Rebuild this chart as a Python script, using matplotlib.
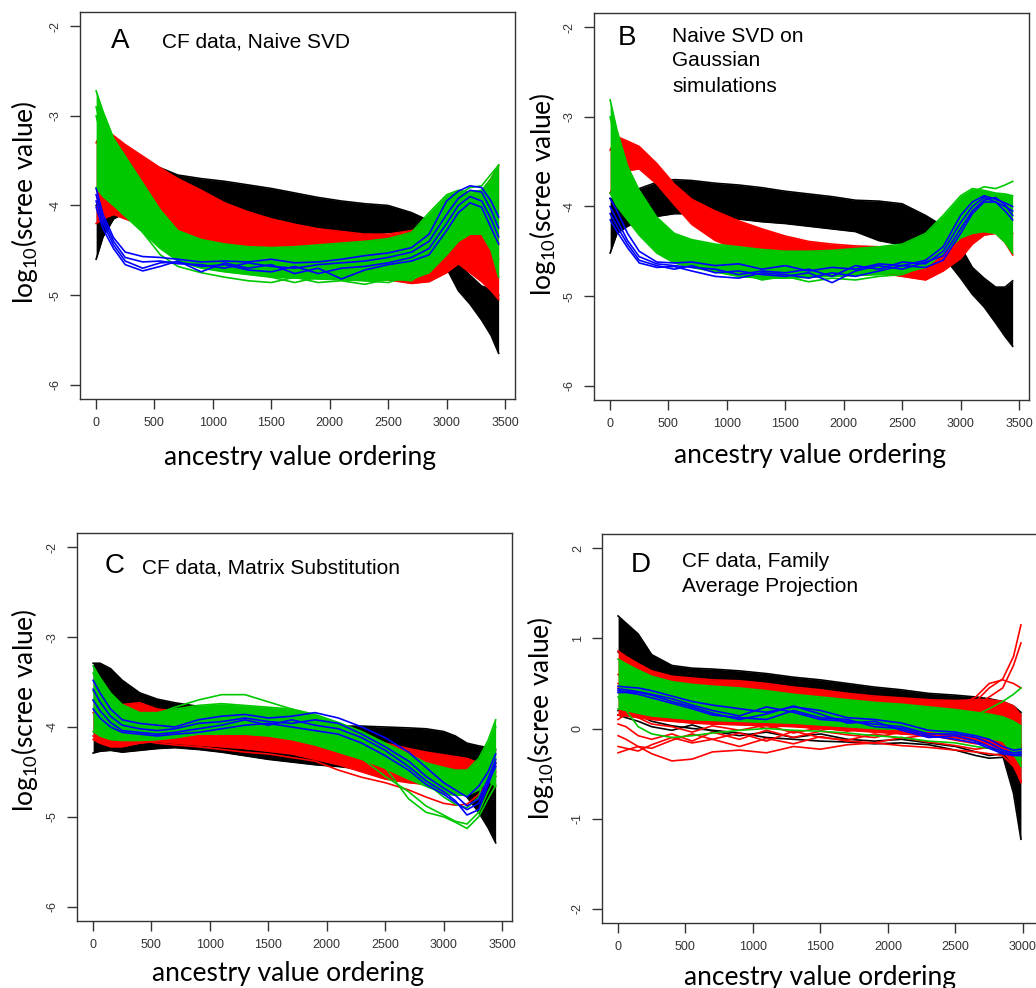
import itertools
import matplotlib.pyplot as plt

plt.rcParams['axes.unicode_minus'] = False
plt.rcParams['mathtext.fontset'] = 'custom'
plt.rcParams['mathtext.rm'] = 'Lato'

W, H = 1036, 988

BLACK = '#000000'
RED = '#FF0000'
GREEN = '#00C800'
BLUE = '#0000FF'

# ordering positions where the curves are read (panels A-C)
x_abc = [1, 60, 150, 250, 400, 550, 700, 900, 1100, 1300, 1500, 1700, 1900,
         2100, 2300, 2500, 2700, 2850, 3000, 3100, 3200, 3300, 3380, 3445]
# panel D has fewer ancestry values
x_d = [1, 60, 150, 250, 400, 550, 700, 900, 1100, 1300, 1500, 1700, 1900,
       2100, 2300, 2500, 2650, 2750, 2850, 2930, 2985]

# ---- A: CF data, naive SVD ----
a_black_hi = [-4.00, -3.92, -3.80, -3.66, -3.52, -3.58, -3.66, -3.70, -3.73, -3.77, -3.81, -3.86,
              -3.91, -3.95, -3.98, -4.00, -4.08, -4.17, -4.45, -4.65, -4.78, -4.90, -4.93, -5.00]
a_black_lo = [-4.60, -4.35, -4.15, -4.08, -4.10, -4.10, -4.12, -4.14, -4.16, -4.18, -4.20, -4.23,
              -4.25, -4.30, -4.33, -4.30, -4.28, -4.32, -4.70, -4.95, -5.10, -5.28, -5.45, -5.65]
a_red_hi = [-3.30, -3.15, -3.22, -3.32, -3.45, -3.58, -3.70, -3.83, -3.97, -4.07, -4.15, -4.21,
            -4.26, -4.29, -4.32, -4.32, -4.28, -4.22, -4.20, -4.05, -3.95, -3.85, -3.70, -3.55]
a_red_lo = [-4.20, -4.15, -4.10, -4.15, -4.22, -4.30, -4.40, -4.48, -4.53, -4.57, -4.60, -4.64,
            -4.68, -4.73, -4.78, -4.83, -4.87, -4.85, -4.75, -4.65, -4.75, -4.85, -4.95, -5.05]
a_green_hi = [-2.72, -2.95, -3.25, -3.45, -3.75, -4.05, -4.28, -4.38, -4.43, -4.46, -4.47, -4.46,
              -4.44, -4.42, -4.40, -4.37, -4.30, -4.08, -3.88, -3.83, -3.85, -3.83, -3.70, -3.55]
a_green_lo = [-3.80, -3.90, -4.00, -4.12, -4.30, -4.48, -4.62, -4.70, -4.74, -4.77, -4.80, -4.81,
              -4.82, -4.83, -4.84, -4.83, -4.82, -4.75, -4.55, -4.40, -4.32, -4.32, -4.50, -4.80]
a_green_stray = [
    [-3.00, -3.30, -3.70, -4.00, -4.30, -4.55, -4.68, -4.75, -4.80, -4.84, -4.86, -4.80,
     -4.86, -4.84, -4.88, -4.82, -4.84, -4.70, -4.45, -4.20, -4.05, -4.10, -4.30, -4.60],
    [-2.90, -3.20, -3.50, -3.80, -4.15, -4.40, -4.55, -4.62, -4.68, -4.74, -4.80, -4.86,
     -4.80, -4.78, -4.84, -4.86, -4.78, -4.55, -4.10, -3.88, -3.80, -3.78, -3.65, -3.55],
]
a_blue = [
    [-3.81, -4.10, -4.36, -4.52, -4.57, -4.58, -4.60, -4.63, -4.62, -4.63, -4.60, -4.64,
     -4.63, -4.60, -4.56, -4.53, -4.47, -4.32, -3.95, -3.84, -3.78, -3.80, -3.95, -4.13],
    [-3.88, -4.15, -4.40, -4.58, -4.63, -4.62, -4.65, -4.66, -4.70, -4.64, -4.68, -4.70,
     -4.66, -4.64, -4.62, -4.58, -4.52, -4.40, -4.10, -3.92, -3.83, -3.85, -4.05, -4.25],
    [-3.95, -4.20, -4.44, -4.62, -4.70, -4.64, -4.63, -4.68, -4.66, -4.72, -4.74, -4.68,
     -4.76, -4.70, -4.68, -4.64, -4.58, -4.48, -4.20, -4.00, -3.90, -3.95, -4.15, -4.35],
    [-4.02, -4.26, -4.48, -4.66, -4.73, -4.68, -4.62, -4.74, -4.64, -4.70, -4.66, -4.76,
     -4.70, -4.82, -4.72, -4.66, -4.62, -4.55, -4.28, -4.08, -3.97, -4.02, -4.25, -4.43],
]

# ---- B: naive SVD on Gaussian simulations ----
b_black_hi = [-3.91, -3.93, -3.88, -3.80, -3.73, -3.70, -3.71, -3.74, -3.76, -3.79, -3.83, -3.86,
              -3.89, -3.93, -3.94, -3.97, -4.10, -4.22, -4.45, -4.68, -4.80, -4.90, -4.90, -4.83]
b_black_lo = [-4.52, -4.30, -4.22, -4.16, -4.11, -4.08, -4.08, -4.11, -4.14, -4.17, -4.19, -4.22,
              -4.25, -4.28, -4.38, -4.43, -4.50, -4.55, -4.80, -4.98, -5.12, -5.30, -5.45, -5.56]
b_red_hi = [-3.37, -3.22, -3.27, -3.33, -3.52, -3.75, -3.92, -4.05, -4.16, -4.25, -4.33, -4.39,
            -4.42, -4.44, -4.45, -4.45, -4.42, -4.35, -4.20, -4.10, -4.06, -4.06, -4.12, -4.30]
b_red_lo = [-3.85, -3.70, -3.60, -3.58, -3.75, -3.98, -4.20, -4.38, -4.48, -4.55, -4.59, -4.62,
            -4.66, -4.70, -4.74, -4.78, -4.82, -4.72, -4.58, -4.42, -4.32, -4.30, -4.40, -4.54]
b_green_hi = [-2.81, -3.15, -3.55, -3.82, -4.12, -4.30, -4.37, -4.42, -4.45, -4.48, -4.50, -4.50,
              -4.49, -4.47, -4.45, -4.42, -4.30, -4.10, -3.88, -3.80, -3.82, -3.85, -3.86, -3.88]
b_green_lo = [-3.85, -4.00, -4.15, -4.32, -4.52, -4.63, -4.68, -4.73, -4.78, -4.80, -4.80, -4.79,
              -4.78, -4.77, -4.76, -4.74, -4.68, -4.52, -4.35, -4.30, -4.28, -4.30, -4.40, -4.52]
b_green_stray = [
    [-3.00, -3.35, -3.75, -4.05, -4.35, -4.50, -4.56, -4.62, -4.74, -4.82, -4.78, -4.84,
     -4.80, -4.82, -4.78, -4.76, -4.66, -4.40, -4.05, -3.84, -3.78, -3.80, -3.76, -3.72],
]
b_blue = [
    [-3.91, -4.05, -4.30, -4.50, -4.62, -4.63, -4.62, -4.66, -4.64, -4.70, -4.66, -4.72,
     -4.68, -4.70, -4.64, -4.66, -4.60, -4.45, -4.10, -3.95, -3.88, -3.92, -3.96, -4.00],
    [-4.00, -4.15, -4.38, -4.56, -4.64, -4.66, -4.68, -4.70, -4.76, -4.72, -4.74, -4.70,
     -4.78, -4.66, -4.70, -4.62, -4.64, -4.50, -4.18, -4.00, -3.90, -3.95, -4.00, -4.05],
    [-4.08, -4.22, -4.42, -4.60, -4.66, -4.70, -4.66, -4.74, -4.72, -4.76, -4.78, -4.74,
     -4.85, -4.72, -4.66, -4.70, -4.62, -4.55, -4.25, -4.05, -3.93, -3.90, -3.98, -4.10],
    [-4.15, -4.28, -4.46, -4.63, -4.68, -4.67, -4.72, -4.78, -4.80, -4.74, -4.76, -4.80,
     -4.74, -4.78, -4.72, -4.66, -4.68, -4.60, -4.30, -4.08, -3.95, -3.95, -4.05, -4.15],
]

# ---- C: CF data, matrix substitution ----
c_black_hi = [-3.29, -3.29, -3.35, -3.48, -3.62, -3.69, -3.73, -3.77, -3.80, -3.84, -3.88, -3.90,
              -3.95, -3.99, -3.99, -4.00, -4.01, -4.02, -4.05, -4.10, -4.18, -4.21, -4.23, -4.25]
c_black_lo = [-4.29, -4.27, -4.26, -4.28, -4.26, -4.24, -4.23, -4.25, -4.28, -4.32, -4.36, -4.39,
              -4.42, -4.44, -4.47, -4.50, -4.53, -4.55, -4.58, -4.62, -4.78, -4.95, -5.12, -5.29]
c_red_hi = [-3.84, -3.82, -3.78, -3.75, -3.73, -3.80, -3.82, -3.84, -3.88, -3.92, -3.96, -4.00,
            -4.03, -4.06, -4.12, -4.18, -4.24, -4.28, -4.31, -4.33, -4.35, -4.40, -4.45, -4.40]
c_red_lo = [-4.14, -4.18, -4.22, -4.22, -4.18, -4.16, -4.18, -4.20, -4.22, -4.24, -4.27, -4.30,
            -4.36, -4.42, -4.50, -4.58, -4.62, -4.64, -4.66, -4.68, -4.68, -4.66, -4.62, -4.55]
c_red_stray = [-4.10, -4.16, -4.20, -4.18, -4.15, -4.18, -4.20, -4.22, -4.25, -4.28, -4.30, -4.34,
               -4.38, -4.48, -4.56, -4.62, -4.70, -4.78, -4.85, -4.87, -4.86, -4.75, -4.62, -4.50]
c_green_hi = [-3.32, -3.45, -3.62, -3.75, -3.84, -3.84, -3.80, -3.76, -3.74, -3.76, -3.78, -3.80,
              -3.86, -3.95, -4.05, -4.18, -4.30, -4.40, -4.45, -4.48, -4.48, -4.35, -4.15, -3.92]
c_green_lo = [-4.05, -4.10, -4.14, -4.15, -4.15, -4.14, -4.12, -4.08, -4.08, -4.08, -4.10, -4.14,
              -4.20, -4.28, -4.36, -4.46, -4.58, -4.66, -4.74, -4.76, -4.76, -4.70, -4.60, -4.66]
c_green_stray = [
    [-3.40, -3.55, -3.75, -3.86, -3.88, -3.85, -3.78, -3.70, -3.64, -3.64, -3.72, -3.80,
     -3.88, -3.98, -4.10, -4.25, -4.45, -4.62, -4.78, -4.86, -4.90, -4.78, -4.40, -4.00],
    [-3.60, -3.75, -3.90, -4.00, -4.06, -4.02, -3.98, -3.90, -3.86, -3.88, -3.86, -3.92,
     -4.00, -4.12, -4.28, -4.45, -4.80, -4.95, -5.00, -5.06, -5.13, -5.00, -4.80, -4.65],
    [-3.70, -3.85, -4.00, -4.08, -4.10, -4.06, -4.02, -3.98, -3.95, -3.94, -3.96, -4.00,
     -4.10, -4.22, -4.35, -4.55, -4.72, -4.88, -4.98, -5.05, -5.08, -4.95, -4.72, -4.55],
]
c_blue = [
    [-3.48, -3.62, -3.80, -3.92, -3.96, -3.98, -4.00, -3.92, -3.88, -3.86, -3.90, -3.88,
     -3.84, -3.90, -4.00, -4.12, -4.28, -4.45, -4.62, -4.70, -4.78, -4.66, -4.50, -4.30],
    [-3.58, -3.72, -3.88, -3.98, -4.02, -4.04, -4.02, -3.96, -3.94, -3.90, -3.94, -3.96,
     -3.92, -3.96, -4.08, -4.22, -4.38, -4.55, -4.68, -4.76, -4.88, -4.80, -4.58, -4.36],
    [-3.70, -3.82, -3.95, -4.04, -4.06, -4.08, -4.06, -4.02, -3.98, -3.92, -3.98, -3.92,
     -3.98, -4.02, -4.12, -4.26, -4.44, -4.60, -4.72, -4.82, -4.98, -4.92, -4.65, -4.40],
    [-3.80, -3.90, -4.00, -4.06, -4.08, -4.10, -4.08, -4.06, -4.02, -3.98, -3.96, -4.00,
     -4.04, -4.08, -4.18, -4.32, -4.48, -4.64, -4.75, -4.84, -4.92, -4.85, -4.62, -4.44],
]

# ---- D: CF data, family average projection ----
d_black_hi = [1.25, 1.17, 1.05, 0.82, 0.70, 0.67, 0.66, 0.64, 0.61, 0.57, 0.54, 0.50,
              0.46, 0.43, 0.39, 0.37, 0.35, 0.33, 0.30, 0.25, 0.18]
d_black_lo = [0.85, 0.78, 0.70, 0.62, 0.58, 0.55, 0.53, 0.50, 0.47, 0.44, 0.41, 0.37,
              0.34, 0.31, 0.28, 0.26, 0.22, 0.10, -0.30, -0.72, -1.23]
d_black_stray = [
    [0.20, 0.22, 0.15, 0.08, 0.03, 0.00, -0.02, -0.05, -0.10, -0.12, -0.14, -0.15,
     -0.17, -0.16, -0.18, -0.24, -0.30, -0.33, -0.32, -0.30, -0.28],
    [0.15, 0.12, 0.08, 0.02, -0.02, 0.04, -0.03, -0.08, -0.04, -0.10, -0.06, -0.12,
     -0.14, -0.12, -0.16, -0.20, -0.26, -0.30, -0.28, -0.25, -0.22],
]
d_red_hi = [0.86, 0.80, 0.72, 0.64, 0.58, 0.56, 0.54, 0.53, 0.50, 0.46, 0.43, 0.39,
            0.36, 0.34, 0.32, 0.31, 0.32, 0.32, 0.30, 0.25, 0.15]
d_red_lo = [0.15, 0.14, 0.12, 0.10, 0.08, 0.06, 0.05, 0.04, 0.03, 0.02, 0.00, -0.02,
            -0.04, -0.06, -0.08, -0.10, -0.14, -0.18, -0.25, -0.40, -0.60]
d_red_stray = [
    [-0.27, -0.24, -0.20, -0.28, -0.36, -0.34, -0.26, -0.24, -0.27, -0.20, -0.23, -0.18,
     -0.16, -0.19, -0.21, -0.24, -0.26, -0.28, -0.30, -0.42, -0.58],
    [-0.20, -0.22, -0.25, -0.18, -0.10, -0.16, -0.12, -0.20, -0.11, -0.17, -0.09, -0.14,
     -0.16, -0.10, -0.15, -0.19, -0.23, -0.21, -0.26, -0.32, -0.38],
    [-0.08, -0.12, -0.20, -0.22, -0.13, -0.06, -0.12, -0.05, -0.14, -0.03, -0.10, -0.13,
     -0.06, -0.11, -0.07, -0.13, -0.17, -0.16, -0.21, -0.26, -0.31],
    [0.05, 0.02, -0.08, -0.12, -0.06, -0.14, -0.04, -0.12, -0.02, -0.10, -0.03, -0.07,
     -0.10, -0.04, -0.09, -0.10, -0.12, -0.10, -0.15, -0.20, -0.25],
    [0.15, 0.18, 0.12, 0.05, 0.02, -0.04, 0.03, -0.02, 0.04, -0.05, 0.01, -0.03,
     0.02, -0.06, -0.02, -0.05, -0.08, -0.06, -0.10, -0.15, -0.20],
    [0.10, 0.16, 0.20, 0.15, 0.08, 0.10, 0.05, 0.08, 0.00, 0.05, -0.02, 0.03,
     -0.04, 0.00, -0.05, -0.02, -0.06, -0.04, -0.08, -0.12, -0.18],
    [0.60, 0.55, 0.48, 0.42, 0.38, 0.34, 0.32, 0.30, 0.28, 0.26, 0.24, 0.22,
     0.21, 0.20, 0.20, 0.21, 0.30, 0.45, 0.55, 0.80, 1.15],
    [0.50, 0.46, 0.40, 0.36, 0.33, 0.30, 0.28, 0.26, 0.24, 0.22, 0.20, 0.18,
     0.17, 0.16, 0.16, 0.18, 0.25, 0.35, 0.45, 0.70, 0.95],
    [0.45, 0.42, 0.38, 0.34, 0.30, 0.27, 0.25, 0.24, 0.22, 0.21, 0.20, 0.19,
     0.18, 0.18, 0.20, 0.24, 0.35, 0.50, 0.54, 0.50, 0.45],
]
d_green_hi = [0.77, 0.72, 0.65, 0.58, 0.52, 0.49, 0.47, 0.45, 0.42, 0.38, 0.35, 0.32,
              0.29, 0.27, 0.24, 0.21, 0.18, 0.16, 0.13, 0.08, 0.03]
d_green_lo = [0.22, 0.20, 0.17, 0.14, 0.12, 0.10, 0.09, 0.08, 0.07, 0.06, 0.04, 0.02,
              0.00, -0.01, -0.03, -0.06, -0.09, -0.11, -0.14, -0.28, -0.42]
d_green_stray = [
    [0.35, 0.20, 0.02, -0.06, -0.10, -0.08, -0.05, -0.02, 0.00, -0.02, -0.03, -0.05,
     -0.08, -0.10, -0.14, -0.16, -0.20, -0.22, -0.25, -0.30, -0.35],
    [0.40, 0.38, 0.35, 0.32, 0.28, 0.25, 0.22, 0.20, 0.18, 0.15, 0.12, 0.10,
     0.08, 0.06, 0.05, 0.06, 0.15, 0.22, 0.30, 0.38, 0.45],
]
d_blue = [
    [0.47, 0.46, 0.45, 0.42, 0.36, 0.30, 0.26, 0.22, 0.18, 0.24, 0.20, 0.12,
     0.10, 0.06, -0.02, -0.04, -0.08, -0.12, -0.20, -0.24, -0.23],
    [0.44, 0.43, 0.41, 0.38, 0.33, 0.26, 0.20, 0.14, 0.24, 0.18, 0.10, 0.08,
     0.05, 0.02, -0.06, -0.06, -0.10, -0.16, -0.24, -0.27, -0.26],
    [0.42, 0.41, 0.40, 0.37, 0.30, 0.24, 0.17, 0.10, 0.16, 0.25, 0.16, 0.06,
     0.08, -0.02, -0.10, -0.08, -0.14, -0.20, -0.26, -0.29, -0.28],
    [0.40, 0.40, 0.38, 0.34, 0.28, 0.22, 0.15, 0.12, 0.10, 0.20, 0.12, 0.10,
     0.02, 0.00, -0.08, -0.12, -0.16, -0.22, -0.28, -0.30, -0.30],
]

# draw order counter so each group paints over the previous one
layer = itertools.count(1)


def band(ax, x, lo, hi, color):
    z = next(layer)
    ax.fill_between(x, lo, hi, color=color, lw=0, zorder=z)
    ax.plot(x, lo, color=color, lw=1.2, zorder=z)
    ax.plot(x, hi, color=color, lw=1.2, zorder=z)


def lines(ax, x, curves, color, lw=1.2):
    z = next(layer)
    for y in curves:
        ax.plot(x, y, color=color, lw=lw, zorder=z)


def make_axes(left, top, right, bottom):
    ax = fig.add_axes([left / W, 1 - bottom / H, (right - left) / W, (bottom - top) / H])
    for s in ax.spines.values():
        s.set_color('#333333')
        s.set_linewidth(1.0)
        s.set_zorder(100)
    ax.tick_params(direction='out', length=7, width=1, color='#333333',
                   labelsize=9, labelcolor='#333333', pad=6)
    return ax


def style(ax, xlim, ylim, xticks, yticks):
    ax.set_xlim(*xlim)
    ax.set_ylim(*ylim)
    ax.set_xticks(xticks)
    ax.set_xticklabels([str(t) for t in xticks], family='Liberation Sans')
    ax.set_yticks(yticks)
    ax.set_yticklabels([str(t) for t in yticks], family='Liberation Sans',
                       rotation=90, va='center')


def ftext(x, y, s, **kw):
    fig.text(x / W, 1 - y / H, s, **kw)


fig = plt.figure(figsize=(W / 100, H / 100), dpi=100)

xt = [0, 500, 1000, 1500, 2000, 2500, 3000, 3500]
yt = [-6, -5, -4, -3, -2]

# A
ax = make_axes(80, 12, 515, 399)
band(ax, x_abc, a_black_lo, a_black_hi, BLACK)
band(ax, x_abc, a_red_lo, a_red_hi, RED)
band(ax, x_abc, a_green_lo, a_green_hi, GREEN)
lines(ax, x_abc, a_green_stray, GREEN)
lines(ax, x_abc, a_blue, BLUE)
style(ax, (-137, 3585), (-6.16, -1.84), xt, yt)

# B
ax = make_axes(594, 13, 1029, 400)
band(ax, x_abc, b_black_lo, b_black_hi, BLACK)
band(ax, x_abc, b_red_lo, b_red_hi, RED)
band(ax, x_abc, b_green_lo, b_green_hi, GREEN)
lines(ax, x_abc, b_green_stray, GREEN)
lines(ax, x_abc, b_blue, BLUE)
style(ax, (-137, 3585), (-6.16, -1.84), xt, yt)

# C
ax = make_axes(77, 533, 512, 921)
band(ax, x_abc, c_black_lo, c_black_hi, BLACK)
band(ax, x_abc, c_red_lo, c_red_hi, RED)
lines(ax, x_abc, [c_red_stray], RED)
band(ax, x_abc, c_green_lo, c_green_hi, GREEN)
lines(ax, x_abc, c_green_stray, GREEN)
lines(ax, x_abc, c_blue, BLUE)
style(ax, (-137, 3585), (-6.16, -1.84), xt, yt)

# D
ax = make_axes(602, 534, 1037, 923)
band(ax, x_d, d_black_lo, d_black_hi, BLACK)
lines(ax, x_d, d_black_stray, BLACK)
band(ax, x_d, d_red_lo, d_red_hi, RED)
lines(ax, x_d, d_red_stray, RED)
band(ax, x_d, d_green_lo, d_green_hi, GREEN)
lines(ax, x_d, d_green_stray, GREEN)
lines(ax, x_d, d_blue, BLUE)
style(ax, (-118, 3104), (-2.16, 2.16), [0, 500, 1000, 1500, 2000, 2500, 3000], [-2, -1, 0, 1, 2])

# axis titles
lab_kw = dict(family='Lato', fontsize=19, ha='center', va='center')
ylab = r'$\mathregular{log_{10}(scree\ value)}$'
for (x, y) in [(25, 202), (543, 194), (25, 710), (541, 718)]:
    ftext(x, y, ylab, rotation=90, **lab_kw)
for (x, y) in [(300, 458), (810, 455), (288, 973), (820, 977)]:
    ftext(x, y, 'ancestry value ordering', **lab_kw)

# panel letters and captions
let_kw = dict(family='Liberation Sans', fontsize=20, ha='center', va='baseline')
cap_kw = dict(family='Liberation Sans', fontsize=15, ha='left', va='baseline')
ftext(120, 48, 'A', **let_kw)
ftext(162, 47, 'CF data, Naive SVD', **cap_kw)
ftext(627, 45, 'B', **let_kw)
ftext(672, 41.5, 'Naive SVD on', **cap_kw)
ftext(672, 66.5, 'Gaussian', **cap_kw)
ftext(672, 91.5, 'simulations', **cap_kw)
ftext(115, 573, 'C', **let_kw)
ftext(142, 573, 'CF data, Matrix Substitution', **cap_kw)
ftext(641, 572, 'D', **let_kw)
ftext(682, 567, 'CF data, Family', **cap_kw)
ftext(682, 592, 'Average Projection', **cap_kw)

fig.savefig('out.png', dpi=100, facecolor='white')
